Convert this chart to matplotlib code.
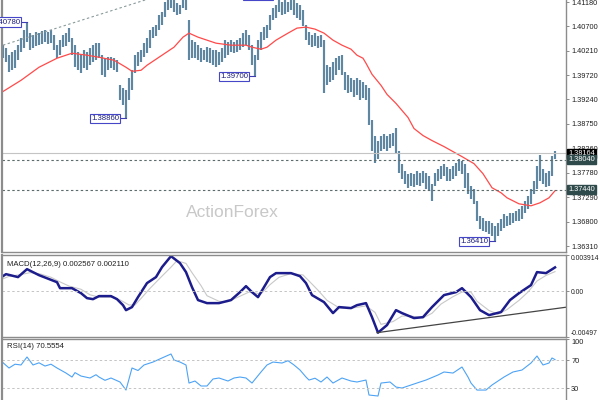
import numpy as np
import matplotlib
matplotlib.use('Agg')
import matplotlib.pyplot as plt
from matplotlib.transforms import blended_transform_factory

plt.rcParams['font.family'] = ['Liberation Sans', 'DejaVu Sans']

# bar highs / lows (one per bar, oldest first)
high = [1.4032, 1.4026, 1.4012, 1.4018, 1.4022, 1.4032, 1.4046, 1.4062, 1.4078, 1.4056,
        1.4052, 1.4058, 1.4056, 1.4060, 1.4062, 1.4058, 1.4062, 1.4052, 1.4032, 1.4042,
        1.4052, 1.4056, 1.4066, 1.4046, 1.4032, 1.4018, 1.4012, 1.4022, 1.4018, 1.4026,
        1.4032, 1.4036, 1.4036, 1.4012, 1.4006, 1.4008, 1.4008, 1.4006, 1.4002, 1.3952,
        1.3946, 1.3942, 1.3966, 1.3982, 1.4012, 1.4018, 1.4022, 1.4036, 1.4046, 1.4062,
        1.4068, 1.4072, 1.4092, 1.4098, 1.4118, 1.4128, 1.4132, 1.4122, 1.4116, 1.4112,
        1.4126, 1.4130, 1.4082, 1.4042, 1.4038, 1.4032, 1.4026, 1.4022, 1.4028, 1.4026,
        1.4022, 1.4022, 1.4018, 1.4026, 1.4042, 1.4038, 1.4042, 1.4038, 1.4042, 1.4046,
        1.4056, 1.4062, 1.4052, 1.4032, 1.4012, 1.4042, 1.4058, 1.4068, 1.4072, 1.4092,
        1.4106, 1.4112, 1.4128, 1.4118, 1.4122, 1.4118, 1.4126, 1.4122, 1.4116, 1.4112,
        1.4102, 1.4072, 1.4058, 1.4052, 1.4056, 1.4050, 1.4052, 1.4042, 1.3992, 1.3988,
        1.3998, 1.4006, 1.4010, 1.4012, 1.3978, 1.3972, 1.3966, 1.3962, 1.3966, 1.3962,
        1.3958, 1.3952, 1.3946, 1.3882, 1.3852, 1.3842, 1.3852, 1.3856, 1.3852, 1.3856,
        1.3858, 1.3868, 1.3822, 1.3796, 1.3782, 1.3776, 1.3778, 1.3776, 1.3782, 1.3778,
        1.3782, 1.3778, 1.3772, 1.3756, 1.3778, 1.3786, 1.3792, 1.3796, 1.3790, 1.3786,
        1.3792, 1.3798, 1.3806, 1.3802, 1.3796, 1.3778, 1.3752, 1.3746, 1.3722, 1.3692,
        1.3688, 1.3682, 1.3682, 1.3678, 1.3672, 1.3678, 1.3686, 1.3696, 1.3692, 1.3698,
        1.3698, 1.3702, 1.3706, 1.3712, 1.3722, 1.3732, 1.3746, 1.3762, 1.3792, 1.3814,
        1.3786, 1.3778, 1.3782, 1.3812, 1.3822]
low = [1.4006, 1.3998, 1.3978, 1.3982, 1.3986, 1.4002, 1.4018, 1.4026, 1.4038, 1.4022,
       1.4026, 1.4030, 1.4032, 1.4034, 1.4038, 1.4034, 1.4036, 1.4022, 1.4006, 1.4012,
       1.4028, 1.4030, 1.4038, 1.4012, 1.3988, 1.3982, 1.3976, 1.3986, 1.3982, 1.3992,
       1.3998, 1.4002, 1.4006, 1.3972, 1.3968, 1.3982, 1.3986, 1.3982, 1.3978, 1.3922,
       1.3912, 1.3886, 1.3922, 1.3942, 1.3976, 1.3990, 1.3998, 1.4008, 1.4016, 1.4026,
       1.4046, 1.4050, 1.4062, 1.4072, 1.4088, 1.4102, 1.4106, 1.4098, 1.4092, 1.4094,
       1.4106, 1.4102, 1.4002, 1.4006, 1.4006, 1.4002, 1.3998, 1.4002, 1.3998, 1.3996,
       1.3992, 1.3988, 1.3992, 1.3998, 1.4006, 1.4012, 1.4018, 1.4016, 1.4018, 1.4022,
       1.4028, 1.4032, 1.4022, 1.3992, 1.3970, 1.4002, 1.4022, 1.4042, 1.4046, 1.4062,
       1.4082, 1.4086, 1.4098, 1.4092, 1.4094, 1.4098, 1.4102, 1.4092, 1.4086, 1.4082,
       1.4070, 1.4042, 1.4032, 1.4028, 1.4030, 1.4026, 1.4028, 1.3936, 1.3952, 1.3958,
       1.3962, 1.3972, 1.3982, 1.3972, 1.3942, 1.3936, 1.3938, 1.3928, 1.3932, 1.3922,
       1.3926, 1.3922, 1.3872, 1.3822, 1.3798, 1.3806, 1.3822, 1.3826, 1.3822, 1.3828,
       1.3832, 1.3816, 1.3778, 1.3766, 1.3756, 1.3748, 1.3752, 1.3750, 1.3754, 1.3752,
       1.3758, 1.3746, 1.3742, 1.3722, 1.3752, 1.3762, 1.3766, 1.3772, 1.3762, 1.3762,
       1.3766, 1.3772, 1.3782, 1.3776, 1.3748, 1.3736, 1.3726, 1.3716, 1.3682, 1.3666,
       1.3662, 1.3660, 1.3656, 1.3652, 1.3641, 1.3652, 1.3662, 1.3668, 1.3672, 1.3674,
       1.3678, 1.3682, 1.3682, 1.3686, 1.3698, 1.3706, 1.3716, 1.3736, 1.3746, 1.3762,
       1.3756, 1.3750, 1.3752, 1.3772, 1.3806]

# moving average (red)
ma_idx = [-1, 6, 12, 18, 23, 28, 32, 37, 41, 43, 46, 48, 52, 57, 60, 62, 65, 68, 71, 76,
          81, 83, 86, 88, 91, 95, 98, 101, 104, 107, 110, 113, 116, 118, 120, 121, 123, 126, 128, 131,
          135, 137, 140, 143, 147, 150, 153, 157, 160, 163, 166, 168, 172, 176, 179, 182, 184]
ma_val = [1.3936, 1.3962, 1.3988, 1.4006, 1.4016, 1.4012, 1.4008, 1.4002, 1.3988, 1.3980,
          1.3982, 1.3992, 1.4008, 1.4028, 1.4048, 1.4056, 1.4048, 1.4042, 1.4036, 1.4032,
          1.4032, 1.4028, 1.4024, 1.4028, 1.4042, 1.4056, 1.4066, 1.4068, 1.4064, 1.4056,
          1.4042, 1.4032, 1.4024, 1.4012, 1.4006, 1.3996, 1.3974, 1.3952, 1.3934, 1.3916,
          1.3888, 1.3866, 1.3852, 1.3842, 1.3830, 1.3820, 1.3810, 1.3796, 1.3776, 1.3748,
          1.3738, 1.3728, 1.3716, 1.3712, 1.3718, 1.3728, 1.3742]

# MACD main / signal
macd_idx = [-1, 1, 5, 8, 12, 18, 19, 23, 26, 28, 30, 32, 36, 38, 40, 41, 43, 45, 48, 51,
            53, 56, 59, 61, 63, 65, 68, 72, 76, 79, 81, 83, 85, 87, 89, 91, 96, 99, 101, 103,
            107, 110, 112, 116, 118, 121, 123, 125, 128, 131, 133, 137, 140, 143, 147, 151, 153, 156, 159, 162,
            166, 169, 172, 176, 178, 181, 184]
macd_val = [0.00141, 0.00184, 0.00152, 0.00238, 0.00173, 0.00097, 0.00032, 0.00032, -0.00022, -0.00076,
            -0.00087, -0.00054, -0.00054, -0.00087, -0.00152, -0.00206, -0.00173, -0.00065, 0.00087, 0.00152,
            0.00260, 0.00379, 0.00303, 0.00206, 0.00043, -0.00097, -0.00130, -0.00130, -0.00097, -0.00011,
            0.00054, -0.00011, -0.00065, 0.00043, 0.00152, 0.00195, 0.00195, 0.00162, 0.00087, -0.00043,
            -0.00119, -0.00238, -0.00173, -0.00184, -0.00152, -0.00130, -0.00282, -0.00450, -0.00368, -0.00206,
            -0.00238, -0.00292, -0.00282, -0.00173, -0.00043, -0.00011, 0.00032, -0.00065, -0.00206, -0.00260,
            -0.00227, -0.00097, -0.00022, 0.00065, 0.00206, 0.00195, 0.00257]
sig_idx = [-1, 2, 6, 9, 12, 16, 19, 22, 26, 29, 32, 36, 39, 42, 44, 46, 49, 52, 56, 58,
           61, 63, 66, 68, 72, 75, 78, 82, 84, 86, 89, 92, 96, 100, 102, 105, 108, 112, 115, 118,
           121, 124, 126, 130, 133, 136, 140, 143, 146, 150, 153, 156, 158, 162, 165, 168, 172, 175, 178, 181, 184]
sig_val = [0.00120, 0.00160, 0.00180, 0.00200, 0.00190, 0.00150, 0.00100, 0.00055, 0.00020, -0.00040,
           -0.00065, -0.00065, -0.00095, -0.00150, -0.00150, -0.00080, 0.00030, 0.00130, 0.00260, 0.00330,
           0.00300, 0.00200, 0.00060, -0.00050, -0.00110, -0.00115, -0.00070, -0.00010, -0.00020, -0.00030,
           0.00070, 0.00150, 0.00190, 0.00175, 0.00110, 0.00010, -0.00100, -0.00180, -0.00190, -0.00175,
           -0.00160, -0.00230, -0.00360, -0.00330, -0.00270, -0.00270, -0.00290, -0.00240, -0.00140, -0.00060,
           -0.00010, -0.00010, -0.00110, -0.00210, -0.00250, -0.00200, -0.00100, -0.00010, 0.00110, 0.00170, 0.00211]

# RSI(14)
rsi_idx = [-1, 2, 4, 6, 8, 10, 12, 14, 16, 18, 21, 23, 24, 26, 29, 31, 32, 34, 36, 39,
           41, 43, 45, 47, 50, 53, 56, 57, 59, 61, 62, 64, 66, 68, 70, 72, 75, 77, 79, 81,
           83, 86, 88, 90, 93, 95, 97, 99, 101, 102, 104, 106, 108, 110, 113, 116, 118, 121, 122, 125,
           126, 129, 131, 133, 136, 139, 141, 145, 147, 150, 153, 155, 156, 158, 161, 163, 167, 170, 173, 176,
           178, 180, 182, 183, 184]
rsi_val = [70.0, 58.6, 64.0, 62.9, 74.3, 62.9, 66.0, 61.4, 64.0, 58.6, 51.4, 45.7, 52.0, 47.1, 44.3, 49.0, 45.7, 41.0, 44.3, 38.6,
           27.1, 58.6, 55.0, 62.9, 67.1, 72.9, 78.6, 70.0, 67.1, 62.9, 37.1, 40.0, 32.9, 32.9, 42.9, 44.3, 40.0, 44.3, 45.7, 44.3,
           37.1, 52.9, 62.9, 67.1, 65.7, 69.0, 62.9, 55.7, 45.7, 41.4, 44.0, 38.6, 45.7, 37.1, 44.3, 40.0, 38.6, 41.4, 20.0, 18.6,
           37.1, 38.6, 31.4, 30.0, 34.3, 38.6, 41.4, 48.6, 52.9, 51.4, 60.0, 45.7, 37.1, 27.1, 27.1, 34.3, 45.7, 52.9, 55.7, 65.7,
           75.7, 62.9, 65.7, 72.9, 70.6]

price_ticks = [1.41180, 1.40700, 1.40210, 1.39720, 1.39240, 1.38750,
               1.38260, 1.37780, 1.37290, 1.36800, 1.36310]
bid = 1.38164
levels = [1.38040, 1.37440]

# swing labels: text, bar index, price
swings = [('1.40780', 8, 1.4078), ('1.38860', 41, 1.3886), ('1.39700', 84, 1.3970),
          ('1.41320', 92, 1.4132), ('1.36410', 164, 1.3641)]

assert len(high) == len(low) == 185
assert len(ma_idx) == len(ma_val)
assert len(macd_idx) == len(macd_val)
assert len(sig_idx) == len(sig_val)
assert len(rsi_idx) == len(rsi_val)

bar_col = '#5f87a1'
grey = '#8c8c8c'
txt = '#202020'
fs = 5.6
tfs = 5.3

fig = plt.figure(figsize=(6, 4), dpi=100)
L, W = 2 / 600, 564 / 600
ax1 = fig.add_axes([L, 148 / 400, W, 252 / 400])
ax2 = fig.add_axes([L, 63 / 400, W, 82 / 400])
ax3 = fig.add_axes([L, 0, W, 61 / 400])

xlim = (-1 / 3, 563 / 3)
idx = np.arange(len(high))

# ---- price panel
ax1.vlines(idx, low, high, color=bar_col, lw=1.55)
ax1.plot(ma_idx, ma_val, color='#ff4a4a', lw=0.9)
ax1.axhline(bid, color='#c4c4c4', lw=0.8)
for lv in levels:
    ax1.axhline(lv, color='#5c6c6c', lw=0.8, ls=(0, (2.2, 2.2)))
ax1.plot([0, 60], [1.4032, 1.4146], color='#8a9a9a', lw=0.8, ls=(0, (2.2, 2.2)))
for s, i, p in swings:
    ax1.plot([i - 2.3, i], [p, p], color='#3c3cb4', lw=0.8)
    ax1.text(i - 2.3, p, s, ha='right', va='center', fontsize=fs, color='#1c1c80',
             bbox=dict(boxstyle='square,pad=0.15', fc='white', ec='#4646c8', lw=0.8))
ax1.text(0.408, 0.155, 'ActionForex', transform=ax1.transAxes, ha='center', va='center',
         fontsize=12.5, color='#c8c8c8')
ax1.set_xlim(*xlim)
ax1.set_ylim(1.36200, 1.41220)
ax1.set_xticks([])
ax1.yaxis.tick_right()
ax1.set_yticks(price_ticks)
ax1.set_yticklabels(['%.5f' % t for t in price_ticks])

tr = blended_transform_factory(ax1.transAxes, ax1.transData)
ax1.text(1.004, bid, '%.5f' % bid, transform=tr, ha='left', va='center', fontsize=tfs,
         color='white', bbox=dict(boxstyle='square,pad=0.12', fc='black', ec='black'))
for lv in levels:
    ax1.text(1.004, lv, '%.5f' % lv, transform=tr, ha='left', va='center', fontsize=tfs,
             color='white', bbox=dict(boxstyle='square,pad=0.12', fc='#2f4a4a', ec='#2f4a4a'))

# ---- MACD panel
ax2.plot(sig_idx, sig_val, color='#c8c8c8', lw=0.8)
ax2.plot(macd_idx, macd_val, color='#1c1c8c', lw=1.8)
ax2.axhline(0, color='#c4c4c4', lw=0.7, ls=(0, (2.5, 2.5)))
ax2.plot([124.7, 188], [-0.00450, -0.00173], color='#444444', lw=0.9)
ax2.text(0.008, 0.93, 'MACD(12,26,9) 0.002567 0.002110', transform=ax2.transAxes,
         ha='left', va='top', fontsize=fs, color=txt)
ax2.set_xlim(*xlim)
ax2.set_ylim(-0.00497, 0.003914)
ax2.set_xticks([])
ax2.yaxis.tick_right()
ax2.set_yticks([0.003914, 0.0, -0.00497])
ax2.set_yticklabels(['0.003914', '0.00', '-0.00497'])

# ---- RSI panel
ax3.plot(rsi_idx, rsi_val, color='#4da3f5', lw=0.8)
for lv in (70, 30):
    ax3.axhline(lv, color='#c4c4c4', lw=0.7, ls=(0, (2.5, 2.5)))
ax3.text(0.008, 0.93, 'RSI(14) 70.5554', transform=ax3.transAxes,
         ha='left', va='top', fontsize=fs, color=txt)
ax3.set_xlim(*xlim)
ax3.set_ylim(12.9, 100)
ax3.set_xticks([])
ax3.yaxis.tick_right()
ax3.set_yticks([100, 70, 30])
ax3.set_yticklabels(['100', '70', '30'])

for ax in (ax1, ax2, ax3):
    ax.tick_params(axis='y', direction='out', length=2.2, width=0.7, colors=grey,
                   labelcolor=txt, labelsize=tfs, pad=1.5)
    for sp in ax.spines.values():
        sp.set_color('#8c8c8c')
        sp.set_linewidth(1.0)
ax2.tick_params(axis='y', labelsize=4.9, pad=1.2)
lab = ax2.get_yticklabels()
lab[0].set_va('top')
lab[2].set_va('bottom')
ax3.get_yticklabels()[0].set_va('top')
ax1.spines['top'].set_visible(False)
ax3.spines['bottom'].set_visible(False)
ax1.spines['left'].set_linewidth(1.6)
ax2.spines['left'].set_linewidth(1.6)
ax3.spines['left'].set_linewidth(1.6)

fig.savefig('out.png', dpi=100)
